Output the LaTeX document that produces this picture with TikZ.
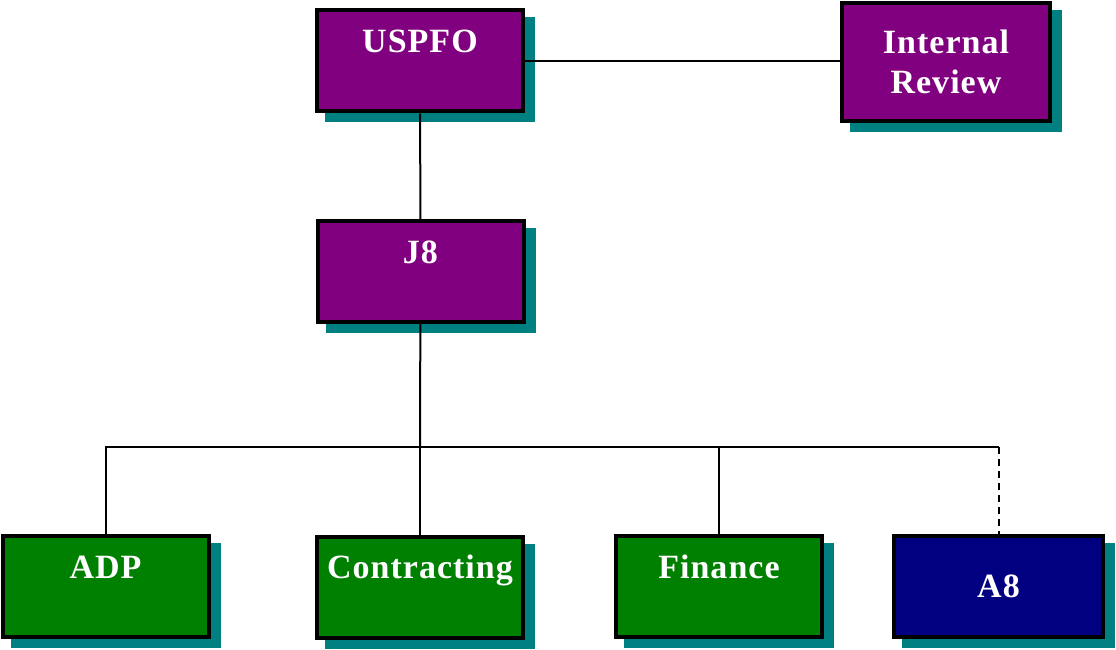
\documentclass[tikz,border=0pt]{standalone}
\usepackage{fontspec}
\setmainfont{Liberation Serif}[LetterSpace=3]
\usetikzlibrary{shadows}
\definecolor{orgpurple}{HTML}{800080}
\definecolor{orggreen}{HTML}{008000}
\definecolor{orgnavy}{HTML}{000080}
\definecolor{orgteal}{HTML}{008080}

\begin{document}
\begin{tikzpicture}[x=1pt,y=-1pt]

\tikzset{orgbox/.style = {shape=rectangle, draw=black, line width=4pt, inner sep=0pt,
  minimum width=206pt, minimum height=101pt, text=white,
  font=\fontsize{34}{40}\selectfont\bfseries,
  drop shadow={shadow xshift=10pt, shadow yshift=-9pt, fill=orgteal, draw=orgteal, opacity=1}}}
\tikzset{toptext/.style = {text height=42pt, text depth=59pt}}
\tikzset{link/.style = {line width=2pt}}
\useasboundingbox (0,0) rectangle (1116,650);
%boxes
\node[orgbox, toptext, fill=orgpurple] (uspfo) at (420,61) {USPFO};
\node[orgbox, fill=orgpurple, minimum width=208pt, minimum height=118pt, align=center] (internal) at (946,62) {Internal\\Review};
\node[orgbox, toptext, fill=orgpurple] (j8) at (420.5,271.5) {J8};
\node[orgbox, toptext, fill=orggreen] (adp) at (105.5,586.5) {ADP};
\node[orgbox, toptext, fill=orggreen] (contracting) at (420,587) {Contracting};
\node[orgbox, toptext, fill=orggreen] (finance) at (719,586.5) {Finance};
\node[orgbox, fill=orgnavy, minimum width=209pt] (a8) at (998.5,586.5) {A8};
\coordinate (bus) at (420,447);
%lines
\draw[link] (uspfo.east) -- (uspfo.east -| internal.west);
\draw[link] (uspfo) -- (j8);
\draw[link] (j8) -- (bus);
\draw[link] (bus) -| (adp.north);
\draw[link] (bus) -- (contracting);
\draw[link] (bus) -| (finance.north);
\draw[link] (bus) -- (bus -| a8.north);
\draw[link, dash pattern=on 7pt off 5pt] (bus -| a8.north) -- (a8.north);

\end{tikzpicture}
\end{document}
